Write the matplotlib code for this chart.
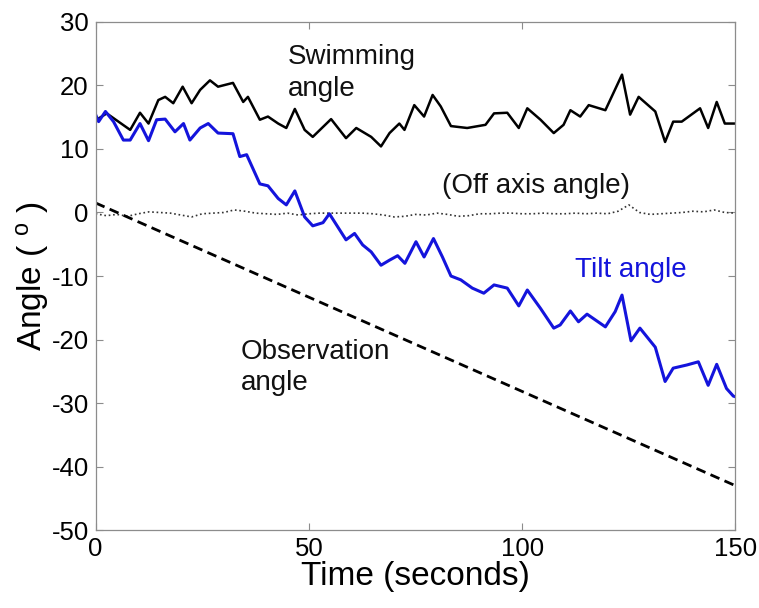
import matplotlib
matplotlib.use("Agg")
import matplotlib.pyplot as plt
import numpy as np

plt.rcParams['font.family'] = ['Liberation Sans', 'DejaVu Sans']
plt.rcParams['mathtext.fontset'] = 'custom'
plt.rcParams['mathtext.rm'] = 'Liberation Sans'
plt.rcParams['mathtext.it'] = 'Liberation Sans'
plt.rcParams['axes.unicode_minus'] = False

# Swimming angle (degrees) vs time (s)
swim_t = [0, 2.6, 8.1, 10.4, 12.4, 14.7, 16.3, 18.2, 20.4, 22.5, 24.5, 26.8, 28.7,
          32.2, 34.6, 35.7, 38.5, 40.4, 42.8, 44.7, 46.7, 49.0, 50.9, 55.2, 58.7,
          61.1, 64.6, 66.9, 68.9, 71.2, 72.4, 74.7, 77.0, 79.0, 80.9, 83.3, 87.1,
          91.4, 93.4, 96.5, 99.2, 101.2, 104.3, 107.4, 109.7, 111.3, 113.6, 115.6,
          119.5, 123.4, 125.3, 127.3, 131.2, 133.5, 135.4, 137.4, 141.7, 143.6,
          145.6, 147.5, 150]
swim_v = [14.5, 15.6, 13.0, 15.7, 14.0, 17.7, 18.2, 17.2, 19.8, 17.2, 19.3, 20.8, 19.8,
          20.4, 17.4, 18.2, 14.6, 15.1, 14.0, 13.3, 16.3, 13.0, 11.9, 14.7, 11.7,
          13.3, 11.9, 10.4, 12.5, 14.0, 13.0, 16.9, 15.1, 18.5, 16.7, 13.6, 13.3,
          13.8, 15.6, 15.7, 13.3, 16.4, 14.6, 12.5, 13.8, 16.1, 15.1, 16.9,
          16.1, 21.7, 15.4, 18.2, 15.9, 11.1, 14.3, 14.3, 16.4, 13.3,
          17.4, 14.0, 14.0]

# Tilt angle (degrees) vs time (s)
tilt_t = [0, 0.7, 2.3, 4.2, 6.5, 8.1, 10.4, 12.4, 14.3, 16.3, 18.6, 20.6, 22.1, 24.5,
          26.4, 28.7, 32.2, 33.8, 35.4, 38.5, 40.4, 42.8, 44.7, 46.7, 49.0, 50.9,
          53.3, 54.8, 58.7, 60.7, 62.6, 64.6, 66.9, 68.9, 70.8, 72.5, 75.1, 77.0,
          79.2, 81.3, 83.3, 85.6, 88.3, 91.0, 93.4, 96.5, 99.2, 101.2, 104.3, 107.4,
          108.9, 111.3, 113.2, 115.2, 119.5, 121.8, 123.4, 125.5, 127.6, 131.2,
          133.5, 135.4, 138.6, 141.3, 143.6, 145.6, 147.9, 149.5, 150]
tilt_v = [15.4, 14.3, 15.9, 14.3, 11.4, 11.4, 14.0, 11.3, 14.6, 14.7, 12.7, 14.0, 11.4, 13.3,
          14.0, 12.5, 12.4, 8.8, 9.1, 4.5, 4.2, 2.2, 1.2, 3.4, -0.7, -2.1,
          -1.6, -0.2, -4.3, -3.3, -5.1, -6.2, -8.3, -7.5, -6.8, -8.0, -4.6, -7.0,
          -4.1, -7.0, -10.0, -10.6, -11.9, -12.7, -11.4, -11.9, -14.7, -12.2, -15.1, -18.2,
          -17.7, -15.5, -17.2, -16.0, -18.0, -15.6, -13.0, -20.2, -18.2, -21.2,
          -26.6, -24.5, -24.0, -23.5, -27.2, -23.9, -27.7, -28.9, -29.0]

# Off axis angle (degrees), sampled every 2.5 s
off_t = np.arange(0, 150.01, 2.5)
off_v = [-0.2, -0.5, -0.3, -0.6, -0.2, 0.1, 0.0, -0.1, -0.4, -0.7, -0.2, -0.1, 0.0,
         0.4, 0.2, -0.1, -0.2, -0.3, -0.1, -0.4, -0.2, -0.1, -0.1, -0.1, -0.1, -0.1,
         -0.2, -0.4, -0.7, -0.6, -0.3, -0.4, -0.1, -0.3, -0.6, -0.5, -0.2, -0.2, -0.1,
         -0.1, -0.2, -0.2, -0.1, -0.2, -0.2, -0.1, -0.2, -0.1, -0.2, 0.2, 1.2, 0.0,
         -0.3, -0.2, -0.1, 0.0, 0.2, 0.1, 0.4, 0.0, -0.1]

# Observation angle: straight line between its end points
obs_t = [0, 150]
obs_v = [1.5, -43.0]

BLUE = '#1414dc'

fig = plt.figure(figsize=(7.59, 6.08), dpi=100)
ax = fig.add_axes([0.126, 0.128, 0.843, 0.836])

ax.plot(off_t, off_v, linestyle=':', color='#333333', linewidth=1.2)
ax.plot(obs_t, obs_v, linestyle=(0, (3.5, 2.0)), color='black', linewidth=2.0)
ax.plot(swim_t, swim_v, color='black', linewidth=1.8)
ax.plot(tilt_t, tilt_v, color=BLUE, linewidth=2.2)

ax.set_xlim(0, 150)
ax.set_ylim(-50, 30)
ax.set_xticks([0, 50, 100, 150])
ax.set_yticks(np.arange(-50, 31, 10))

for s in ax.spines.values():
    s.set_color('#8c8c8c')
    s.set_linewidth(0.9)
ax.tick_params(direction='in', length=5, width=0.8, color='#8c8c8c',
               top=True, right=True, labelsize=18.5, pad=5)

ax.set_xlabel('Time (seconds)', fontsize=24, labelpad=0)
ax.set_ylabel(r'Angle ( $^{\mathrm{o}}$ )', fontsize=24, labelpad=0)

txt = dict(fontsize=20, color='#111111')
ax.text(45.0, 24.5, 'Swimming', va='center', ha='left', **txt)
ax.text(45.0, 19.4, 'angle', va='center', ha='left', **txt)
ax.text(81.3, 4.2, '(Off axis angle)', va='center', ha='left', **txt)
ax.text(112.4, -9.1, 'Tilt angle', va='center', ha='left', fontsize=20, color=BLUE)
ax.text(34.1, -22.0, 'Observation', va='center', ha='left', **txt)
ax.text(34.1, -26.9, 'angle', va='center', ha='left', **txt)

fig.savefig('out.png', dpi=100)
